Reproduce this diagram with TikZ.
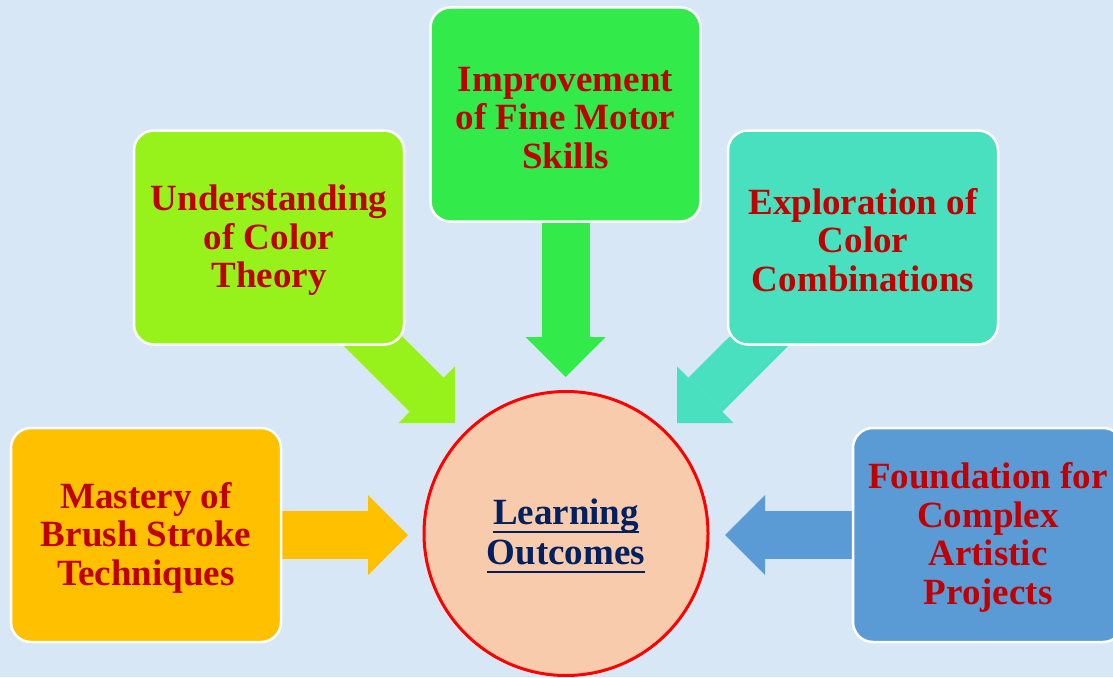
\documentclass[tikz,border=0pt]{standalone}
\usepackage{fontspec}
\setmainfont{Liberation Serif}
\usetikzlibrary{arrows.meta}
\definecolor{bgblue}{RGB}{216,231,246}
\definecolor{txtred}{RGB}{192,0,0}
\definecolor{navy}{RGB}{0,32,96}
\definecolor{cyellow}{RGB}{255,192,0}
\definecolor{clime}{RGB}{150,242,26}
\definecolor{cgreen}{RGB}{50,234,74}
\definecolor{cteal}{RGB}{72,224,190}
\definecolor{cblue}{RGB}{91,155,213}
\definecolor{cpeach}{RGB}{248,203,173}
\pgfdeclarelayer{bg}
\pgfdeclarelayer{arr}
\pgfsetlayers{bg,arr,main}
\newcommand\ulline[1]{\setbox0\hbox{#1}\rlap{\rule[-8.2pt]{\wd0}{2.4pt}}\box0}
\newcommand\topstrut{\rule{0pt}{31pt}}
\tikzset{
  card/.style={draw=white, line width=2.5pt, rounded corners=20pt,
    minimum width=270pt, minimum height=214pt, inner sep=0pt, align=center,
    text=txtred, font={\bfseries\fontsize{37}{38.5}\selectfont}},
  fat/.style={line width=48pt, -{Triangle[length=40pt,width=80pt,line width=0pt]}},
  hub/.style={circle, draw=red, line width=3pt, fill=cpeach, minimum size=284pt,
    inner sep=0pt, align=center, text=navy,
    font={\bfseries\fontsize{37}{38.5}\selectfont}}
}
\begin{document}
\begin{tikzpicture}[x=1pt,y=-1pt]
\begin{pgfonlayer}{bg}
\fill[bgblue] (0,0) rectangle (1113,677);
\end{pgfonlayer}
\useasboundingbox (0,0) rectangle (1113,677);
\clip (0,0) rectangle (1113,677);
\node[card, fill=cyellow] (mastery) at (146,535) {\topstrut Mastery of\\Brush Stroke\\Techniques};
\node[card, fill=clime] (under) at (269,237.5) {\topstrut Understanding\\of Color\\Theory};
\node[card, fill=cgreen] (improv) at (565.5,114.5) {\topstrut Improvement\\of Fine Motor\\Skills};
\node[card, fill=cteal] (explor) at (863,237.5) {\topstrut Exploration of\\Color\\Combinations};
\node[card, fill=cblue] (found) at (988,535) {\topstrut Foundation for\\Complex\\Artistic\\Projects};
\node[hub] (lo) at (566,533.5) {\topstrut\ulline{Learning}\\[1.5pt]\ulline{Outcomes}};
\coordinate (tm) at (408,535);
\coordinate (tf) at (725,535);
\coordinate (ti) at (565.5,377);
\coordinate (tu) at (455,423);
\coordinate (te) at (677,423);
\begin{pgfonlayer}{arr}
\draw[fat, cyellow] (mastery.center) -- (tm);
\draw[fat, cblue] (found.center) -- (tf);
\draw[fat, cgreen] (improv.center) -- (ti);
\draw[fat, clime] (under.center) -- (tu);
\draw[fat, cteal] (explor.center) -- (te);
\end{pgfonlayer}
\end{tikzpicture}
\end{document}
